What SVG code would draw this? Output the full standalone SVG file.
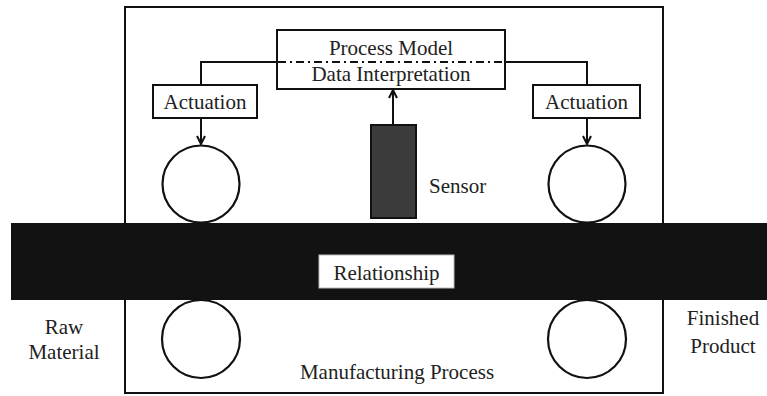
<svg xmlns="http://www.w3.org/2000/svg" width="767" height="396" viewBox="0 0 767 396">
  <style>
    .box { fill: #fff; stroke: #111; stroke-width: 2; }
    .roll { fill: #fff; stroke: #111; stroke-width: 2.2; }
    .wire { fill: none; stroke: #111; stroke-width: 2; }
    text { font-family: 'Liberation Serif', 'Times New Roman', 'DejaVu Serif', serif; font-size: 21px; fill: #222; }
    .lbl { text-anchor: middle; }
  </style>
  <defs>
    <marker id="arrow" viewBox="0 0 10 10" refX="9" refY="5" markerWidth="10" markerHeight="10" markerUnits="userSpaceOnUse" orient="auto">
      <path d="M1,1 L9,5 L1,9" fill="none" stroke="#111" stroke-width="2"/>
    </marker>
  </defs>

  <rect width="767" height="396" fill="#fff"/>

  <!-- process frame -->
  <g id="frame">
    <rect x="125" y="7" width="538" height="386" fill="none" stroke="#111" stroke-width="2"/>
  </g>

  <!-- upper rolls -->
  <g id="roll-upper-left"><circle class="roll" cx="201" cy="184" r="38.5"/></g>
  <g id="roll-upper-right"><circle class="roll" cx="587" cy="184" r="38.5"/></g>

  <!-- lower rolls -->
  <g id="roll-lower-left"><circle class="roll" cx="201" cy="339" r="39"/></g>
  <g id="roll-lower-right"><circle class="roll" cx="587" cy="339" r="39"/></g>

  <!-- material band -->
  <g id="band">
    <rect x="11" y="223" width="756" height="77" fill="#121212"/>
  </g>

  <g id="relationship">
    <rect x="319" y="255" width="135" height="33" fill="#fff" stroke="#bbb" stroke-width="1"/>
    <text class="lbl" x="386.5" y="280" font-family="Liberation Serif, serif">Relationship</text>
  </g>

  <g id="process-model">
    <rect class="box" x="277" y="30" width="228" height="59"/>
    <line x1="278" y1="62" x2="504" y2="62" stroke="#111" stroke-width="2" stroke-dasharray="8 4 2 4"/>
    <text class="lbl" x="391" y="55">Process Model</text>
    <text class="lbl" x="391" y="81">Data Interpretation</text>
  </g>

  <g id="actuation-left">
    <rect class="box" x="153" y="85" width="104" height="33"/>
    <text class="lbl" x="205" y="109">Actuation</text>
  </g>

  <g id="actuation-right">
    <rect class="box" x="533" y="85" width="107" height="33"/>
    <text class="lbl" x="586.5" y="109">Actuation</text>
  </g>

  <g id="sensor">
    <rect x="371" y="125" width="45" height="93" fill="#3b3b3b" stroke="#111" stroke-width="2"/>
    <text x="429" y="193">Sensor</text>
  </g>

  <!-- connectors -->
  <g id="connectors">
    <polyline class="wire" points="277,62 201,62 201,85"/>
    <polyline class="wire" points="505,62 587,62 587,85"/>
    <line class="wire" x1="201" y1="118" x2="201" y2="144" marker-end="url(#arrow)"/>
    <line class="wire" x1="587" y1="118" x2="587" y2="144" marker-end="url(#arrow)"/>
    <line class="wire" x1="393" y1="125" x2="393" y2="90" marker-end="url(#arrow)"/>
  </g>

  <!-- outside labels -->
  <g id="raw-material">
    <text class="lbl" x="64" y="334">Raw</text>
    <text class="lbl" x="64" y="359">Material</text>
  </g>
  <g id="finished-product">
    <text class="lbl" x="723" y="325">Finished</text>
    <text class="lbl" x="723" y="353">Product</text>
  </g>
  <g id="manufacturing-process">
    <text class="lbl" x="397" y="379">Manufacturing Process</text>
  </g>
</svg>
